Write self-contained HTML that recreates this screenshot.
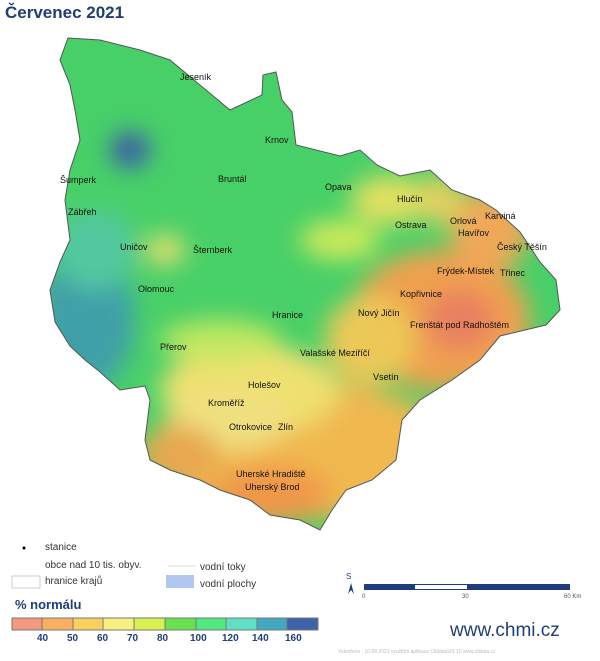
<!DOCTYPE html>
<html><head><meta charset="utf-8"><style>
body{margin:0;width:600px;height:661px;background:#fff;font-family:"Liberation Sans",sans-serif;overflow:hidden;position:relative}
.t{position:absolute;white-space:nowrap}
</style></head><body>
<div class="t" style="left:5px;top:3px;font-size:17px;font-weight:bold;color:#1f3d7a">Červenec 2021</div>
<svg width="600" height="661" style="position:absolute;left:0;top:0">
<defs>
<clipPath id="c"><path id="o" d="M68,38 L100,40 L140,50 L170,60 L200,85 L230,110 L262,95 L263,75 L276,72 L282,100 L292,112 L296,145 L340,156 L360,150 L377,165 L400,176 L430,170 L452,190 L480,200 L496,210 L520,232 L540,262 L556,280 L560,310 L546,325 L525,330 L500,336 L480,360 L452,380 L420,400 L402,420 L396,460 L372,480 L346,490 L332,510 L320,530 L300,520 L270,515 L250,500 L220,490 L200,480 L170,470 L150,460 L145,440 L150,400 L145,386 L120,390 L100,372 L85,360 L70,346 L55,322 L50,290 L60,262 L70,240 L65,200 L70,170 L80,140 L75,110 L70,85 L60,60 Z"/></clipPath>
<filter id="b"><feGaussianBlur stdDeviation="12"/></filter>
</defs>
<g clip-path="url(#c)">
<rect x="0" y="0" width="600" height="600" fill="#48d068"/>
<g filter="url(#b)">
<ellipse cx="85" cy="320" rx="50" ry="70" fill="#3fa0a8"/>
<ellipse cx="95" cy="250" rx="40" ry="40" fill="#52c8a0"/>
<ellipse cx="130" cy="150" rx="20" ry="18" fill="#3a5aa8"/>
<ellipse cx="300" cy="450" rx="150" ry="70" fill="#f0b850"/>
<ellipse cx="250" cy="390" rx="90" ry="45" fill="#eee070"/>
<ellipse cx="230" cy="420" rx="60" ry="30" fill="#f0e080"/>
<ellipse cx="440" cy="320" rx="90" ry="70" fill="#f0a050"/>
<ellipse cx="460" cy="320" rx="35" ry="30" fill="#e88060"/>
<ellipse cx="490" cy="230" rx="40" ry="40" fill="#f0a858"/>
<ellipse cx="390" cy="200" rx="40" ry="25" fill="#e0e060"/>
<ellipse cx="340" cy="240" rx="40" ry="20" fill="#ccea5a"/>
<ellipse cx="370" cy="340" rx="45" ry="45" fill="#ecc858"/>
<ellipse cx="270" cy="495" rx="60" ry="30" fill="#f09848"/>
<ellipse cx="180" cy="455" rx="40" ry="30" fill="#e8a850"/>
<ellipse cx="220" cy="340" rx="60" ry="20" fill="#c0e860"/>
<ellipse cx="165" cy="250" rx="20" ry="15" fill="#e8e070"/>
<ellipse cx="440" cy="200" rx="25" ry="25" fill="#e0d060"/>
</g>
</g>
<use href="#o" fill="none" stroke="#555" stroke-width="1"/>
<g font-size="9" fill="#111">
<text x="180" y="80">Jeseník</text><text x="265" y="143">Krnov</text><text x="60" y="183">Šumperk</text>
<text x="68" y="215">Zábřeh</text><text x="218" y="182">Bruntál</text><text x="325" y="190">Opava</text>
<text x="397" y="202">Hlučín</text><text x="395" y="228">Ostrava</text><text x="450" y="224">Orlová</text>
<text x="485" y="219">Karviná</text><text x="458" y="236">Havířov</text><text x="497" y="250">Český Těšín</text>
<text x="120" y="250">Uničov</text><text x="193" y="253">Šternberk</text><text x="437" y="274">Frýdek-Místek</text>
<text x="500" y="276">Třinec</text><text x="400" y="297">Kopřivnice</text><text x="138" y="292">Olomouc</text>
<text x="272" y="318">Hranice</text><text x="358" y="316">Nový Jičín</text><text x="410" y="328">Frenštát pod Radhoštěm</text>
<text x="160" y="350">Přerov</text><text x="300" y="356">Valašské Meziříčí</text><text x="373" y="380">Vsetín</text>
<text x="248" y="388">Holešov</text><text x="208" y="406">Kroměříž</text><text x="229" y="430">Otrokovice</text>
<text x="278" y="430">Zlín</text><text x="236" y="477">Uherské Hradiště</text><text x="245" y="490">Uherský Brod</text>
</g>
<circle cx="24" cy="548" r="1.5" fill="#000"/>
<rect x="12" y="576" width="28" height="12" fill="#fff" stroke="#ccc"/>
<line x1="168" y1="566" x2="196" y2="566" stroke="#ddd"/>
<rect x="166" y="575" width="28" height="13" fill="#b0c8f0"/>
<g stroke="#777" stroke-width="1">
<rect x="12" y="618" width="30" height="12" fill="#f49a80"/><rect x="42" y="618" width="31" height="12" fill="#f8b060"/>
<rect x="73" y="618" width="30" height="12" fill="#f8d060"/><rect x="103" y="618" width="31" height="12" fill="#f8f080"/>
<rect x="134" y="618" width="31" height="12" fill="#d8f050"/><rect x="165" y="618" width="31" height="12" fill="#68e050"/>
<rect x="196" y="618" width="30" height="12" fill="#50e880"/><rect x="226" y="618" width="31" height="12" fill="#60e0c0"/>
<rect x="257" y="618" width="30" height="12" fill="#40a8c0"/><rect x="287" y="618" width="31" height="12" fill="#4060a8"/>
</g>
<rect x="364" y="584" width="206" height="6" fill="#1f3d7a"/>
<rect x="415" y="585" width="52" height="4" fill="#fff"/>
<path d="M348,594 L351,583 L354,594 L351,590Z" fill="#1f3d7a"/>
</svg>
<div class="t" style="left:45px;top:542px;font-size:10px;color:#333">stanice</div>
<div class="t" style="left:45px;top:560px;font-size:10px;color:#333">obce nad 10 tis. obyv.</div>
<div class="t" style="left:45px;top:576px;font-size:10px;color:#333">hranice krajů</div>
<div class="t" style="left:200px;top:562px;font-size:10px;color:#333">vodní toky</div>
<div class="t" style="left:200px;top:579px;font-size:10px;color:#333">vodní plochy</div>
<div class="t" style="left:15px;top:597px;font-size:13px;font-weight:bold;color:#1f3d7a">% normálu</div>
<div class="t" style="left:37px;top:633px;font-size:10px;font-weight:bold;color:#1f3d7a">40</div>
<div class="t" style="left:67px;top:633px;font-size:10px;font-weight:bold;color:#1f3d7a">50</div>
<div class="t" style="left:97px;top:633px;font-size:10px;font-weight:bold;color:#1f3d7a">60</div>
<div class="t" style="left:127px;top:633px;font-size:10px;font-weight:bold;color:#1f3d7a">70</div>
<div class="t" style="left:157px;top:633px;font-size:10px;font-weight:bold;color:#1f3d7a">80</div>
<div class="t" style="left:190px;top:633px;font-size:10px;font-weight:bold;color:#1f3d7a">100</div>
<div class="t" style="left:222px;top:633px;font-size:10px;font-weight:bold;color:#1f3d7a">120</div>
<div class="t" style="left:252px;top:633px;font-size:10px;font-weight:bold;color:#1f3d7a">140</div>
<div class="t" style="left:285px;top:633px;font-size:10px;font-weight:bold;color:#1f3d7a">160</div>
<div class="t" style="left:346px;top:572px;font-size:8px;color:#1f3d7a">S</div>
<div class="t" style="left:362px;top:594px;font-size:6px;color:#555">0</div>
<div class="t" style="left:462px;top:594px;font-size:6px;color:#555">30</div>
<div class="t" style="left:564px;top:594px;font-size:6px;color:#555">60 Km</div>
<div class="t" style="left:450px;top:620px;font-size:19px;color:#1f3d7a">www.chmi.cz</div>
<div class="t" style="left:338px;top:649px;font-size:5px;color:#bbb">Vytvořeno : 10.08.2021 využitím aplikace ClidataGIS 10 www.clidata.cz</div>
</body></html>
